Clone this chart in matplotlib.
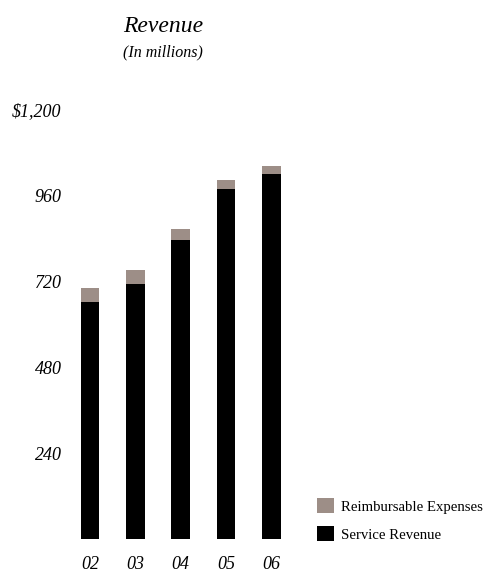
import matplotlib
matplotlib.use("Agg")
import matplotlib.pyplot as plt
from matplotlib.patches import Patch

years = ["02", "03", "04", "05", "06"]
service_revenue = [663, 712, 837, 979, 1020]
reimbursable_expenses = [38, 40, 31, 26, 22]
y_ticks = [240, 480, 720, 960, 1200]
y_tick_labels = ["240", "480", "720", "960", "$1,200"]

service_color = "#000000"
reimb_color = "#9d8e87"
FONT = "Liberation Serif"

W, H = 485, 573
fig = plt.figure(figsize=(W / 100, H / 100), dpi=100)
ax = fig.add_axes([67.3 / W, (H - 539) / H, (294.2 - 67.3) / W, 429 / H])

x = list(range(len(years)))
ax.bar(x, service_revenue, width=0.41, color=service_color, edgecolor="none")
ax.bar(x, reimbursable_expenses, width=0.41, bottom=service_revenue,
       color=reimb_color, edgecolor="none")

ax.set_xlim(-0.5, 4.5)
ax.set_ylim(0, 1200)
ax.set_yticks(y_ticks)
ax.set_yticklabels(y_tick_labels, fontfamily=FONT, fontstyle="italic", fontsize=13)
ax.set_xticks(x)
ax.set_xticklabels(years, fontfamily=FONT, fontstyle="italic", fontsize=13)
ax.tick_params(axis="y", length=0, pad=4)
ax.tick_params(axis="x", length=0, pad=12)
for s in ax.spines.values():
    s.set_visible(False)

fig.text(163 / W, 1 - 27 / H, "Revenue", ha="center", va="center",
         fontfamily=FONT, fontstyle="italic", fontsize=17)
fig.text(163 / W, 1 - 52 / H, "(In millions)", ha="center", va="center",
         fontfamily=FONT, fontstyle="italic", fontsize=11.5)

handles = [Patch(facecolor=reimb_color, edgecolor="none", label="Reimbursable Expenses"),
           Patch(facecolor=service_color, edgecolor="none", label="Service Revenue")]
fig.legend(handles=handles, loc="upper left", bbox_to_anchor=(313 / W, 1 - 494 / H),
           frameon=False, prop={"family": FONT, "size": 10.6},
           handlelength=1.15, handleheight=1.15, handletextpad=0.45, labelspacing=0.85,
           borderaxespad=0, borderpad=0.3)

fig.savefig("out.png", dpi=100)
